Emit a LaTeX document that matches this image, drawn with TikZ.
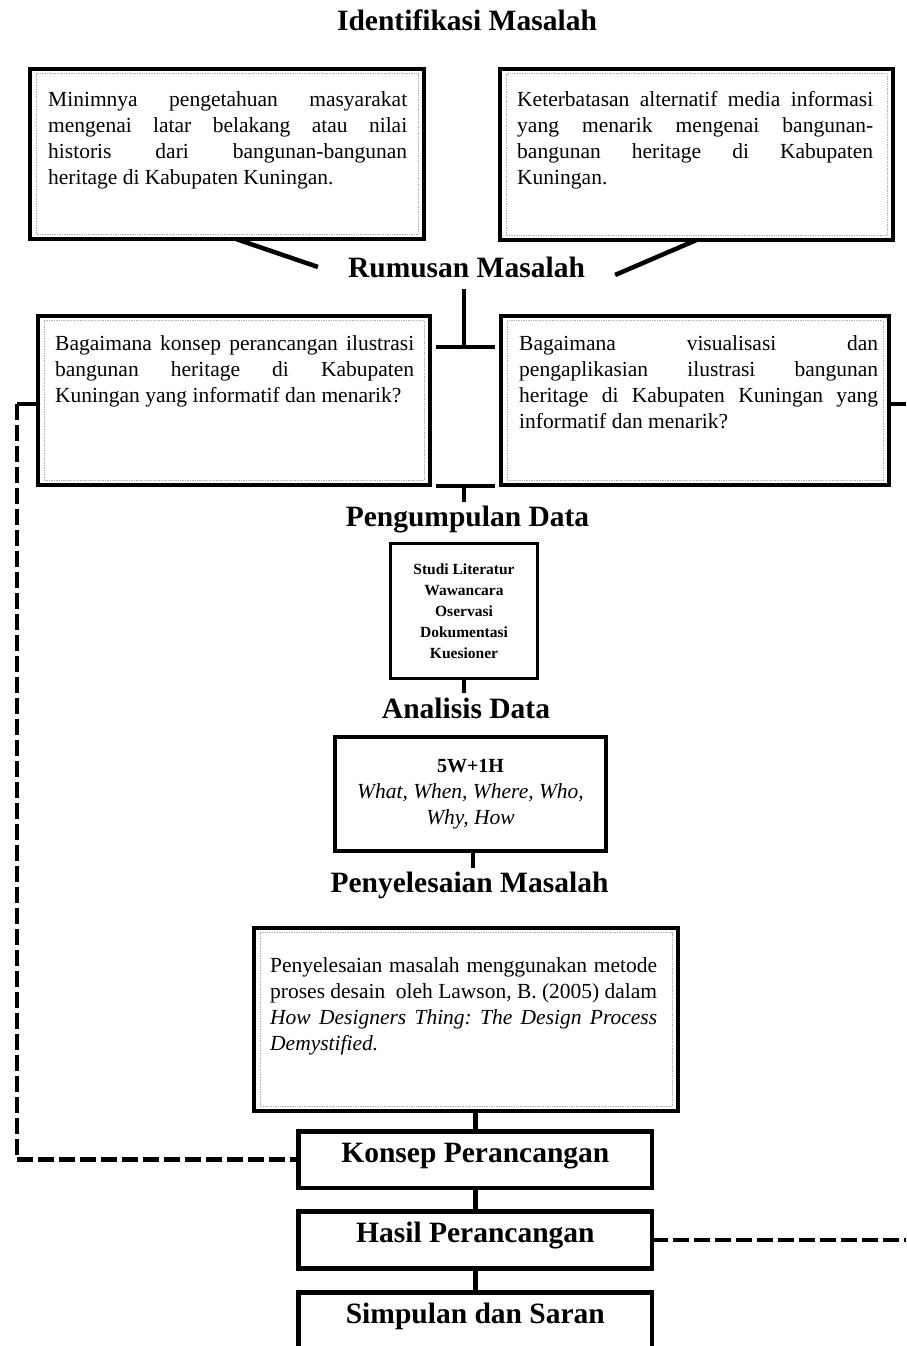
\documentclass[tikz,border=0pt]{standalone}
\usepackage{fontspec}
\setmainfont{Liberation Serif}
\tolerance=10000
\hbadness=10000
\frenchspacing
\newcommand{\isifont}{\fontsize{21.5}{26}\selectfont}
\newcommand{\judulfont}{\fontsize{29.5}{34}\selectfont\bfseries}
\tikzset{
  kotak/.style={draw, line width=4.5pt, rectangle, inner sep=0pt, outer sep=0pt, anchor=north west},
  tahap/.style={kotak, minimum width=353.3pt, text height=31pt, text depth=25.5pt, font=\judulfont},
  isi/.style={inner sep=0pt, align=justify, anchor=base west, font=\isifont},
  judul/.style={inner sep=0pt, anchor=base, font=\judulfont},
  garis/.style={line width=4.5pt},
  putus/.style={line width=4.5pt, dash pattern=on 16pt off 5pt},
  bingkai/.style={line width=0.7pt, densely dotted, black!30},
}
\begin{document}
\begin{tikzpicture}[x=1pt,y=-1pt]
	\path[use as bounding box, fill=white] (0,0) rectangle (906,1346);
	\node[judul] (identifikasi) at (467,31) {Identifikasi Masalah};
	\node[kotak, minimum width=394pt, minimum height=170pt] (a1) at (30,69) {};
	\node[kotak, minimum width=393pt, minimum height=171pt] (a2) at (500,69) {};
	\node[isi, text width=359pt] (a1t) at (48,106) {Minimnya pengetahuan masyarakat\linebreak mengenai latar belakang atau nilai\linebreak historis dari bangunan-bangunan\linebreak heritage di Kabupaten Kuningan.};
	\node[isi, text width=356pt] (a2t) at (517,106) {Keterbatasan alternatif media informasi\linebreak yang menarik mengenai bangunan-\linebreak bangunan heritage di Kabupaten\linebreak Kuningan.};
	\node[judul] (rumusan) at (466.5,277) {Rumusan Masalah};
	\node[kotak, minimum width=392pt, minimum height=169pt] (b1) at (38,316) {};
	\node[kotak, minimum width=388pt, minimum height=169pt] (b2) at (501,316) {};
	\node[isi, text width=359pt] (b1t) at (55,350) {Bagaimana konsep perancangan ilustrasi\linebreak bangunan heritage di Kabupaten\linebreak Kuningan yang informatif dan menarik?};
	\node[isi, text width=359pt] (b2t) at (519,350) {Bagaimana visualisasi dan\linebreak pengaplikasian ilustrasi bangunan\linebreak heritage di Kabupaten Kuningan yang\linebreak informatif dan menarik?};
	\node[judul] (pengumpulan) at (467.5,526.5) {Pengumpulan Data};
	\node[kotak, line width=3.3pt, minimum width=147pt, minimum height=135pt, align=center,
		font=\fontsize{15.5}{21}\selectfont\bfseries] (kumpul) at (390.5,543.5)
		{Studi Literatur\\Wawancara\\Oservasi\\Dokumentasi\\Kuesioner};
	\node[judul] (analisis) at (466,718) {Analisis Data};
	\node[kotak, minimum width=271pt, minimum height=114pt, align=center, font=\isifont] (analisa) at (335,737)
		{{\fontsize{20}{26}\selectfont\bfseries 5W+1H}\\\textit{What, When, Where, Who,}\\\textit{Why, How}};
	\node[judul] (penyelesaian) at (469.5,892) {Penyelesaian Masalah};
	\node[kotak, minimum width=424pt, minimum height=183pt] (solusi) at (254,928) {};
	\node[isi, text width=387pt] (solusit) at (270,972) {Penyelesaian masalah menggunakan metode\linebreak proses desain\ \ oleh Lawson, B. (2005) dalam\linebreak \textit{How Designers Thing: The Design Process\linebreak Demystified.}};
	\node[tahap] (konsep) at (298.7,1131.3) {Konsep Perancangan};
	\node[tahap, text depth=26.4pt] (hasil) at (298.7,1211.3) {Hasil Perancangan};
	\node[tahap, text depth=60pt] (simpulan) at (298.7,1292.7) {Simpulan dan Saran};
	% bingkai titik di dalam kotak
	\foreach \n in {a1,a2,b1,b2,solusi}
		\draw[bingkai] ([shift={(6,4.5)}]\n.north west) rectangle ([shift={(-6,-4.5)}]\n.south east);
	\coordinate (puncak) at (464,289);
	\coordinate (atas) at (464,347);
	\coordinate (ataskiri) at (436,347);
	\coordinate (ataskanan) at (495,347);
	\coordinate (bawah) at (464,486);
	\coordinate (bawahkiri) at (436,486);
	\coordinate (bawahkanan) at (495,486);
	\coordinate (c1) at (464,502);
	\coordinate (c2) at (464,693);
	\coordinate (c3) at (473,868);
	\coordinate (kiri) at (17,404);
	\coordinate (kanan) at (906,404);
	\draw[garis] ([xshift=9pt]a1.south) -- ([xshift=-30pt]rumusan.west);
	\draw[garis] (a2.south) -- ([xshift=30pt,yshift=-8pt]rumusan.east);
	\draw[garis] (puncak) -- (atas);
	\draw[garis] (ataskiri) -- (ataskanan);
	\draw[garis] (bawahkiri) -- (bawahkanan);
	\draw[garis] (bawah) -- (c1);
	\draw[garis] (kumpul.south) -- (c2);
	\draw[garis] (analisa.south -| c3) -- (c3);
	\draw[garis] (konsep.north) -- (konsep.north |- solusi.south);
	\draw[garis] (konsep.south) -- (hasil.north);
	\draw[garis] (hasil.south) -- (simpulan.north);
	\draw[garis] (b1.west |- kiri) -- (kiri);
	\draw[putus] (kiri) -- (kiri |- konsep.west) -- (konsep.west);
	\draw[garis] (b2.east |- kanan) -- (kanan);
	\draw[putus] (hasil.east) -- (hasil.east -| kanan);
\end{tikzpicture}
\end{document}
